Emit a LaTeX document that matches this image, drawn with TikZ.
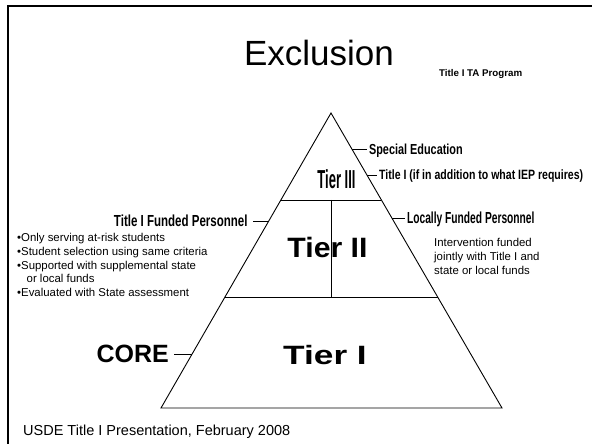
\documentclass[tikz,border=0pt]{standalone}
\usepackage{fontspec}
\usepackage{graphicx}
\setmainfont{Liberation Sans}
\usetikzlibrary{calc}
\begin{document}
\begin{tikzpicture}[x=1pt,y=-1pt,
  tline/.style={line width=0.9pt},
  frame/.style={line width=2pt},
  rlbl/.style={font=\bfseries, inner xsep=2pt, inner ysep=0pt, text depth=0pt, anchor=west},
  llbl/.style={font=\bfseries, inner xsep=5pt, inner ysep=0pt, text depth=0pt, anchor=east},
  tier/.style={font=\bfseries, inner sep=0pt, anchor=base},
  body/.style={inner sep=0pt, align=left, anchor=north west, font={\fontsize{11.4}{13.7}\selectfont}},
]
\useasboundingbox (0,0) rectangle (592,444);
\draw[frame] (8,446) -- (8,6) -- (594,6);

% title
\node[inner sep=0pt, anchor=base] (title) at (319,66) {\fontsize{35}{35}\selectfont Exclusion};
\node[inner sep=0pt, anchor=base west, font=\bfseries] (ta) at (439,76.5) {\fontsize{9.75}{9.75}\selectfont Title I TA Program};

% pyramid
\coordinate (A) at (331,113);
\coordinate (B) at (161,408);
\coordinate (C) at (502,408);
\draw[tline] (A) -- (B) -- (C) -- cycle;
\coordinate (l1) at ($(A)!0.2949!(B)$);
\coordinate (r1) at ($(A)!0.2949!(C)$);
\coordinate (l2) at ($(A)!0.6237!(B)$);
\coordinate (r2) at ($(A)!0.6237!(C)$);
\draw[tline] (l1) -- (r1);
\draw[tline] (l2) -- (r2);
\coordinate (m1) at ($(l1)!0.5!(r1)$);
\coordinate (m2) at (m1 |- l2);
\draw[line width=0.8pt] (m1) -- (m2);

% tiers
\node[tier] (t3) at (336.5,188) {\fontsize{26}{26}\selectfont\scalebox{0.5}[1]{Tier III}};
\node[tier] (t2) at (327.5,257) {\fontsize{28}{28}\selectfont\scalebox{1.08}[1]{Tier II}};
\node[tier] (t1) at (325,364) {\fontsize{26.5}{26.5}\selectfont\scalebox{1.33}[1]{Tier I}};

% edge points
\coordinate (eSE) at ($(A)!0.1220!(C)$);
\coordinate (eTI) at ($(A)!0.2102!(C)$);
\coordinate (eLF) at ($(A)!0.3559!(C)$);
\coordinate (eTF) at ($(A)!0.3661!(B)$);
\coordinate (eCO) at ($(A)!0.8169!(B)$);

% labels
\node[rlbl, text height=10.4pt] (se) at ([xshift=15pt]eSE) {\fontsize{14.5}{14.5}\selectfont\scalebox{0.75}[1]{Special Education}};
\node[rlbl, text height=9.7pt] (ti) at ([xshift=10pt]eTI) {\fontsize{13.5}{13.5}\selectfont\scalebox{0.78}[1]{Title I (if in addition to what IEP requires)}};
\node[rlbl, text height=11.5pt] (lf) at ([xshift=13pt]eLF) {\fontsize{16}{16}\selectfont\scalebox{0.64}[1]{Locally Funded Personnel}};
\node[llbl, text height=11.5pt] (tf) at ([xshift=-16pt]eTF) {\fontsize{16}{16}\selectfont\scalebox{0.72}[1]{Title I Funded Personnel}};
\node[llbl, text height=17.9pt] (co) at ([xshift=-18pt]eCO) {\fontsize{25}{25}\selectfont CORE};

\draw[tline] (eSE) -- (se.west);
\draw[tline] (eTI) -- (ti.west);
\draw[tline] (eLF) -- (lf.west);
\draw[tline] (eTF) -- (tf.east);
\draw[tline] (eCO) -- (co.east);

% body texts
\node[body] (bul) at (17,233.2) {%
  •Only serving at-risk students\\
  •Student selection using same criteria\\
  •Supported with supplemental state\\
  \hspace*{9.5pt}or local funds\\
  •Evaluated with State assessment};
\node[body] (inv) at (434,238.2) {%
  Intervention funded\\
  jointly with Title I and\\
  state or local funds};

% footer
\node[inner sep=0pt, anchor=base west] (foot) at (23,435) {\fontsize{14.5}{14.5}\selectfont USDE Title I Presentation, February 2008};
\end{tikzpicture}
\end{document}
